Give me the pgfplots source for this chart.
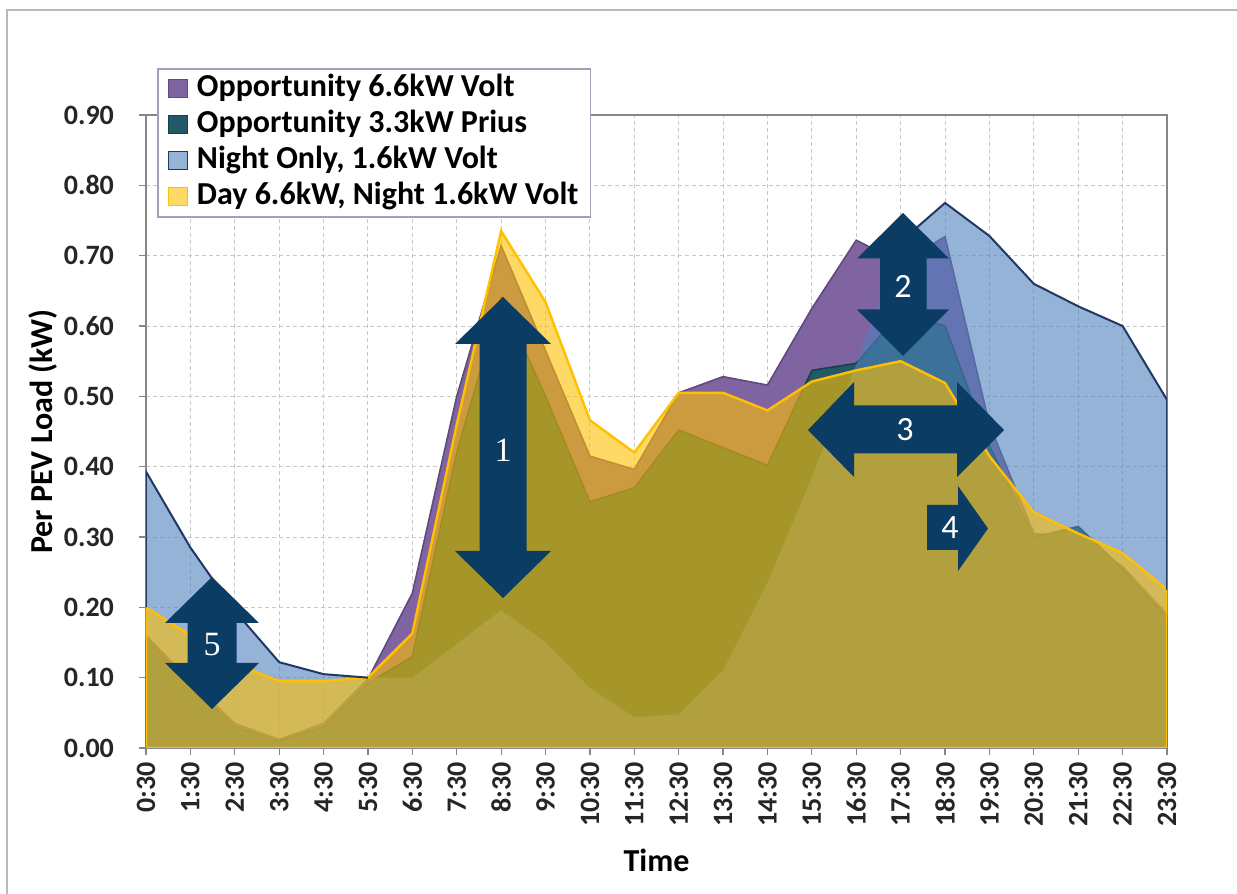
\documentclass[border=0pt]{standalone}
\usepackage{fontspec}
\setmainfont{Carlito}
\newfontfamily\serifnum{Liberation Serif}
\usepackage{pgfplots}
\usepackage{pgfplotstable}
\pgfplotsset{compat=1.18}
\definecolor{purp}{RGB}{128,100,162}
\definecolor{purpd}{RGB}{96,74,123}
\definecolor{teal2}{RGB}{33,89,103}
\definecolor{teald}{RGB}{23,64,75}
\definecolor{blu}{RGB}{79,129,189}
\definecolor{navy}{RGB}{31,56,100}
\definecolor{gold}{RGB}{255,192,0}
\definecolor{arr}{RGB}{11,60,100}
\definecolor{axgray}{RGB}{134,134,134}
\definecolor{gridc}{RGB}{200,200,200}
\definecolor{legc}{RGB}{160,160,185}

\pgfplotstableread{
h purple teal blue yellow
0 0.160 0.155 0.393 0.200
1 0.095 0.090 0.285 0.160
2 0.035 0.030 0.195 0.120
3 0.012 0.010 0.122 0.095
4 0.035 0.030 0.105 0.095
5 0.098 0.092 0.100 0.100
6 0.220 0.130 0.100 0.163
7 0.500 0.420 0.148 0.460
8 0.714 0.640 0.196 0.735
9 0.565 0.500 0.150 0.634
10 0.415 0.350 0.085 0.466
11 0.396 0.370 0.044 0.420
12 0.505 0.452 0.048 0.505
13 0.528 0.427 0.110 0.505
14 0.516 0.402 0.235 0.480
15 0.625 0.537 0.385 0.521
16 0.722 0.547 0.545 0.537
17 0.690 0.620 0.720 0.550
18 0.727 0.600 0.775 0.519
19 0.460 0.430 0.728 0.415
20 0.305 0.300 0.660 0.335
21 0.300 0.315 0.628 0.305
22 0.258 0.255 0.600 0.277
23 0.190 0.185 0.495 0.225
}\data

\begin{document}
\begin{tikzpicture}
\useasboundingbox (0,0) rectangle (618.5pt,447pt);
\fill[white] (0,0) rectangle (618.5pt,447pt);
\begin{scope}[x=0.5pt,y=-0.5pt,shift={(0pt,447pt)}]
\draw[gray!55,line width=0.9pt] (7,10) rectangle (1250,910);
\end{scope}
\begin{axis}[
  at={(73pt,73pt)}, anchor=south west,
  scale only axis, width=510.5pt, height=316.5pt,
  xmin=0, xmax=23, ymin=0, ymax=0.9,
  xtick={0,...,23},
  xticklabels={0:30,1:30,2:30,3:30,4:30,5:30,6:30,7:30,8:30,9:30,10:30,11:30,12:30,13:30,14:30,15:30,16:30,17:30,18:30,19:30,20:30,21:30,22:30,23:30},
  ytick={0,0.1,0.2,0.3,0.4,0.5,0.6,0.7,0.8,0.9},
  tick align=outside, tick pos=left,
  major tick length=3.5pt,
  tick style={axgray, line width=0.6pt},
  axis line style={axgray, line width=0.7pt},
  grid=major,
  major grid style={gridc, dash pattern=on 2pt off 1.5pt, line width=0.5pt},
  ticklabel style={font=\fontsize{14}{16}\selectfont\bfseries, text=black!85},
  xticklabel style={rotate=90, anchor=east},
  yticklabel style={xshift=-9pt, /pgf/number format/fixed, /pgf/number format/fixed zerofill, /pgf/number format/precision=2},
  /pgf/number format/assume math mode=true,
  xlabel={Time}, ylabel={Per PEV Load (kW)},
  every axis x label/.style={at={(axis description cs:0.5,-0.177)}, anchor=center, font=\fontsize{16}{19}\selectfont\bfseries},
  every axis y label/.style={at={(axis description cs:-0.1009,0.5)}, rotate=90, anchor=center, font=\fontsize{16}{19}\selectfont\bfseries},
  legend style={at={(axis description cs:0.0108,1.0742)}, anchor=north west,
    draw=legc, line width=0.75pt, fill=white, inner xsep=5pt, inner ysep=1pt,
    row sep=0pt, column sep=3.5pt,
    font=\fontsize{16}{19}\selectfont\bfseries,
    nodes={inner xsep=1pt, inner ysep=1.5pt, text height=11.5pt, text depth=3.5pt}},
  legend cell align=left,
]
\addlegendimage{legend image code/.code={\draw[fill=purp,draw=purpd,line width=0.6pt] (0pt,-4.5pt) rectangle (9.5pt,4.5pt);}}
\addlegendentry{Opportunity 6.6kW Volt}
\addlegendimage{legend image code/.code={\draw[fill=teal2,draw=teald,line width=0.6pt] (0pt,-4.5pt) rectangle (9.5pt,4.5pt);}}
\addlegendentry{Opportunity 3.3kW Prius}
\addlegendimage{legend image code/.code={\draw[fill=blu,fill opacity=0.6,draw=navy,draw opacity=1,line width=0.6pt] (0pt,-4.5pt) rectangle (9.5pt,4.5pt);}}
\addlegendentry{Night Only, 1.6kW Volt}
\addlegendimage{legend image code/.code={\draw[fill=gold,fill opacity=0.6,draw=gold,draw opacity=1,line width=0.6pt] (0pt,-4.5pt) rectangle (9.5pt,4.5pt);}}
\addlegendentry{Day 6.6kW, Night 1.6kW Volt}

\addplot[forget plot, fill=purp, draw=purpd, line width=0.8pt] table[x=h,y=purple]{\data} \closedcycle;
\addplot[forget plot, fill=teal2, draw=teald, line width=0.8pt] table[x=h,y=teal]{\data} \closedcycle;
\addplot[forget plot, fill=blu, fill opacity=0.6, draw=none] table[x=h,y=blue]{\data} \closedcycle;
\addplot[forget plot, fill=gold, fill opacity=0.6, draw=gold, draw opacity=1, line width=1.2pt] table[x=h,y=yellow]{\data} \closedcycle;
\addplot[forget plot, navy, line width=1pt] coordinates {(0,0.200)(0,0.393)(1,0.285)(2,0.195)(3,0.122)(4,0.105)(5,0.100)};
\addplot[forget plot, navy, line width=1pt] coordinates {(17,0.720)(18,0.775)(19,0.728)(20,0.660)(21,0.628)(22,0.600)(23,0.495)(23,0.225)};
\end{axis}
\begin{scope}[x=0.5pt,y=-0.5pt,shift={(0pt,447pt)}]
% arrow 1
\fill[arr] (503,297) -- (551,344) -- (526.5,344) -- (526.5,551) -- (551,551) -- (503,598) -- (455,551) -- (479.5,551) -- (479.5,344) -- (455,344) -- cycle;
\node[text=white,font=\fontsize{17}{20}\selectfont\serifnum] at (503,450) {1};
% arrow 5
\fill[arr] (212,577) -- (259,623) -- (236.5,623) -- (236.5,663) -- (259,663) -- (212,709) -- (165,663) -- (187.5,663) -- (187.5,623) -- (165,623) -- cycle;
\node[text=white,font=\fontsize{17}{20}\selectfont\serifnum] at (212,645) {5};
% arrow 2
\fill[arr] (903,213) -- (949,258.5) -- (926.5,258.5) -- (926.5,309.5) -- (949,309.5) -- (903,356) -- (857,309.5) -- (880,309.5) -- (880,258.5) -- (857,258.5) -- cycle;
\node[text=white,font=\fontsize{17}{20}\selectfont] at (903,286) {2};
% arrow 3
\fill[arr] (808,430) -- (854,382) -- (854,405.5) -- (957,405.5) -- (957,382) -- (1004,430) -- (957,477) -- (957,453.5) -- (854,453.5) -- (854,477) -- cycle;
\node[text=white,font=\fontsize{17}{20}\selectfont] at (905,430) {3};
% arrow 4
\fill[arr] (927,505) -- (958,505) -- (958,486) -- (988,528.5) -- (958,571) -- (958,550) -- (927,550) -- cycle;
\node[text=white,font=\fontsize{17}{20}\selectfont] at (950,528) {4};
\end{scope}
\end{tikzpicture}
\end{document}
